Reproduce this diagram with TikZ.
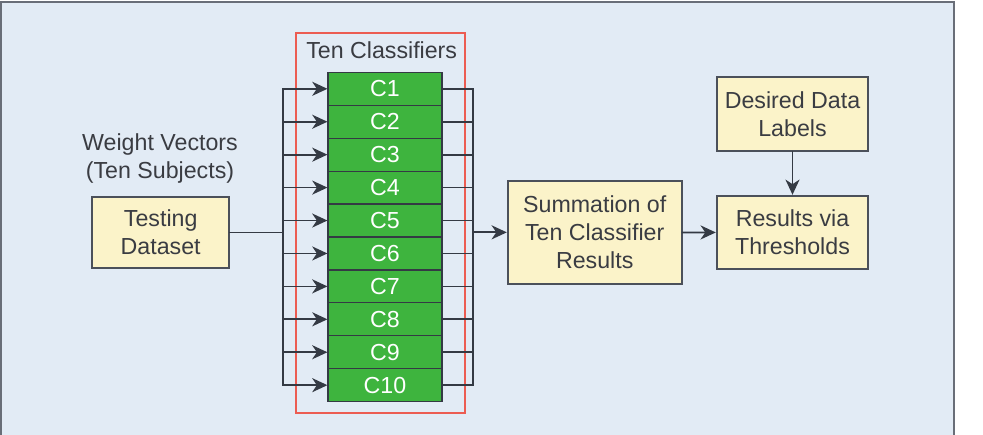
\documentclass[tikz,border=0pt]{standalone}
\usepackage{fontspec}
\setmainfont{Liberation Sans}
\usepackage{tikz}
\usetikzlibrary{arrows.meta,positioning}
\definecolor{panelblue}{RGB}{226,235,245}
\definecolor{panelgray}{RGB}{105,110,120}
\definecolor{boxyellow}{RGB}{251,243,201}
\definecolor{boxgray}{RGB}{75,80,90}
\definecolor{clsgreen}{RGB}{62,180,62}
\definecolor{wiregray}{RGB}{52,58,68}
\definecolor{textgray}{RGB}{58,60,66}
\definecolor{framered}{RGB}{236,92,82}
\tikzset{
  lbl/.style={font=\fontsize{19.8}{24}\selectfont, text=textgray,
              align=center, inner sep=0pt},
  stagebox/.style={rectangle, draw=boxgray, line width=1.5pt,
                   fill=boxyellow, lbl, inner sep=2pt},
  cell/.style={rectangle, draw=wiregray, line width=1pt, fill=clsgreen,
               minimum width=3.42cm, minimum height=0.988cm, inner sep=0pt,
               font=\fontsize{19.8}{24}\selectfont, text=white},
  wire/.style={draw=wiregray, line width=1.5pt, line cap=rect},
  feed/.style={wire, -{Stealth[length=13pt,width=12pt,inset=4pt]}},
}

\begin{document}
\begin{tikzpicture}[x=0.03cm, y=0.03cm]
  \useasboundingbox (0,0) rectangle (983,434);
  % Background panel
  \fill[panelblue] (1,-5) rectangle (954,432);
  \draw[panelgray, line width=1.7pt] (1,-5) -- (1,432) -- (954,432) -- (954,-5);
  % Classifier group
  \draw[framered, line width=1.2pt] (296,21) rectangle (465,401);
  \node[lbl] (title) at (381.7,383.3) {Ten Classifiers};
  \foreach \i in {1,...,10}
    \node[cell] (c\i) at (385,{345.2-(\i-1)*32.93}) {C\i};
  \coordinate (lbus) at (283.3,0);
  \coordinate (rbus) at (473.3,0);
  \draw[wire] (lbus |- c1) -- (lbus |- c10);
  \draw[wire] (rbus |- c1) -- (rbus |- c10);
  \foreach \i in {1,...,10} {
    \draw[feed] (lbus |- c\i) -- (c\i.west);
    \draw[wire] (c\i.east) -- (rbus |- c\i);
  }
  % Input side
  \node[lbl] (weights) at (160,275.7) {Weight Vectors\\(Ten Subjects)};
  \node[stagebox, minimum width=4.10cm, minimum height=2.11cm] (test)
    at (160.7,201.5) {Testing\\Dataset};
  \draw[wire] (test.east) -- (lbus |- test.east);
  % Output side
  \node[stagebox, minimum width=5.22cm, minimum height=3.10cm] (sum)
    at (594.7,201.65) {Summation of\\Ten Classifier\\Results};
  \node[stagebox, minimum width=4.55cm, minimum height=2.21cm] (result)
    at (792.5,201.5) {Results via\\Thresholds};
  \node[stagebox, minimum width=4.55cm, minimum height=2.21cm] (desired)
    at (792.5,320.15) {Desired Data\\Labels};
  \draw[feed] (rbus |- sum) -- (sum.west);
  \draw[feed] (sum) -- (result);
  \draw[feed] (desired) -- (result);
\end{tikzpicture}
\end{document}
